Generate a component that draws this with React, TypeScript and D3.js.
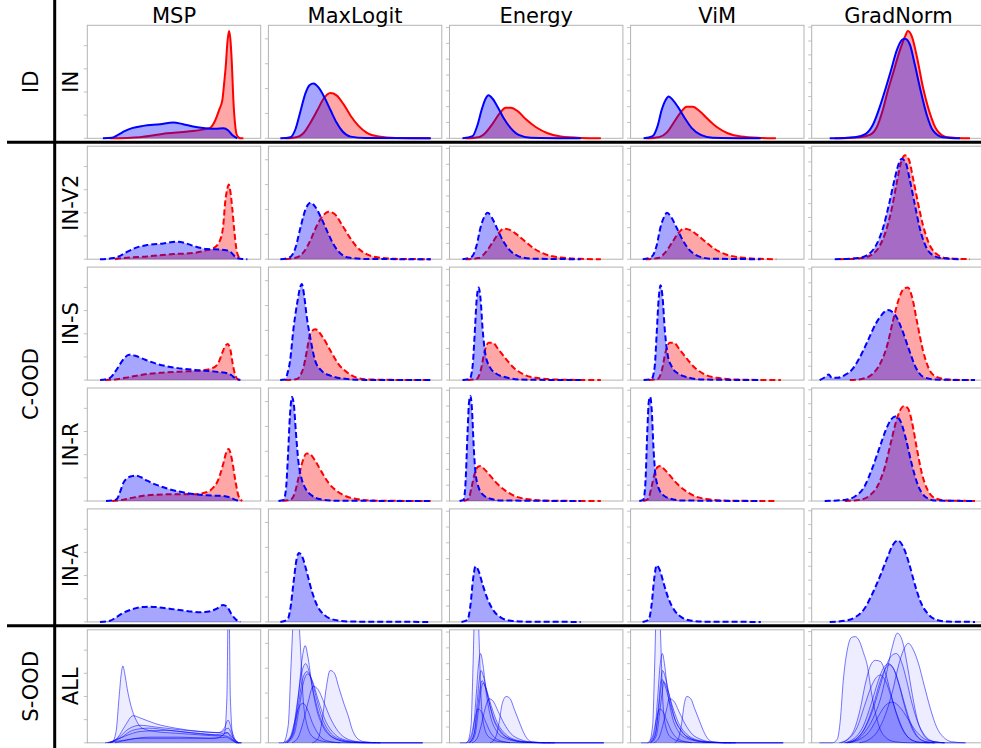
import React from "react";
import * as d3 from "d3";

type Pt = [number, number];

// x: position of the score inside the panel (0..100), y: density as % of panel height
const methods = ["MSP", "MaxLogit", "Energy", "ViM", "GradNorm"];
const rowLabels = ["IN", "IN-V2", "IN-S", "IN-R", "IN-A", "ALL"];
const groupLabels = ["ID", "C-OOD", "S-OOD"];
const groupFirstRow = [0, 1, 5];
const groupLastRow = [0, 4, 5];
const yTickStep = [20.5, 22, 14, 14, 12.3];

// ---- ID / IN ----
const idMspRed: Pt[] = [[13,0],[30.5,1],[46,4.4],[58,6],[70.5,9],[73.8,16],[76,25],[77.9,34],[79,50],[79.9,65],[80.8,85],[81.7,95],[82.5,88],[83.4,65],[84.2,35],[85.4,10],[86.5,2],[88.3,0],[90,0]];
const idMspBlue: Pt[] = [[9,0],[14.3,0.5],[17.7,3],[21.8,6.5],[25.8,9],[32.2,11],[42,12.5],[49.5,14],[55.3,12.5],[61,10.5],[68,9],[73.8,8.5],[78.5,9],[81.3,7],[83.6,3],[86.5,0]];
const idMaxRed: Pt[] = [[9.8,0],[16.2,1],[20.2,4.5],[24.3,14],[28.3,25],[31.8,35],[35.8,40],[39.3,38],[43.4,30],[47.4,20],[52,11],[56.6,5],[63.6,1.5],[73.4,0.3],[93.6,0]];
const idMaxBlue: Pt[] = [[6.9,0],[12.7,1],[15.6,8],[18.5,24],[21.4,40],[23.7,47],[26,48.5],[28.9,45],[32.4,36],[35.8,25],[39.3,14],[42.8,6],[47.4,1.5],[56,0.2],[93.6,0]];
const idEnergyRed: Pt[] = [[9.2,0],[16.8,1],[20.8,5],[24.9,13],[28.9,22],[32.4,27],[35.3,27],[39.3,24],[43.9,17],[49.7,10],[56.6,4.5],[64.2,1.5],[75.7,0.3],[87.3,0]];
const idEnergyBlue: Pt[] = [[7.5,0],[13.3,2],[16.2,12],[18.5,25],[20.8,35],[22.5,38],[24.9,35],[27.7,28],[31.2,18],[35.3,9],[39.9,3],[46.8,0.5],[75.7,0]];
const idVimRed: Pt[] = [[8.7,0],[16.2,1],[20.8,5],[24.9,14],[28.9,23],[32.4,28],[35.8,28],[39.9,24],[44.5,17],[49.7,10],[56,4.5],[63.6,1.5],[75,0.3],[83.8,0]];
const idVimBlue: Pt[] = [[7.5,0],[12.7,2],[15.6,11],[17.9,25],[20.2,34],[22,37],[24.3,34],[27.2,28],[31.2,18],[35.3,9],[40.5,3],[47.4,0.5],[75,0]];
const idGradRed: Pt[] = [[13.3,0],[27.7,1],[33.5,3],[37.6,10],[41,25],[43.9,42],[46.8,57],[50.9,78],[53.8,90],[55.5,95],[57.8,90],[60.7,72],[64.2,45],[68.2,22],[72.3,7],[78,1],[91.3,0]];
const idGradBlue: Pt[] = [[10.4,0],[24.9,1],[31.2,4],[35.3,12],[39.3,28],[42.8,45],[45.7,60],[49.1,78],[52,87],[53.8,88],[56.6,83],[59.5,65],[62.4,45],[66.5,20],[69.9,7],[75.7,1],[85.5,0]];

// ---- C-OOD / IN-V2 ----
const v2MspRed: Pt[] = [[16,0],[20.6,1],[34.5,2.5],[49.5,4.5],[61,5.5],[69,8],[73,10],[76.6,17],[78.4,30],[79.5,50],[80.7,62],[81.6,66],[82.5,60],[83.6,45],[84.8,25],[85.9,10],[87,3],[88.8,0]];
const v2MspBlue: Pt[] = [[7.3,0],[14.9,1],[18.9,3],[23.5,7],[28.7,10.5],[34.5,12.5],[43.8,14],[51.9,15.5],[57,14],[61.7,11.5],[69,9],[76.6,8.5],[80,8],[83,6],[85.4,2],[88.3,0.5],[92.3,0]];
const v2MaxRed: Pt[] = [[9.8,0],[16.2,1.5],[20.2,6],[24.3,17],[27.7,29],[31.2,38],[34.7,42],[38.2,40],[42.2,31],[46.2,21],[50.9,11],[56,5],[63.6,1.5],[73.4,0.3],[93.6,0]];
const v2MaxBlue: Pt[] = [[6.9,0],[12.1,1.5],[15.6,10],[18.5,28],[21.4,44],[24.3,50],[27.2,46],[30.6,36],[34.1,24],[37.6,13],[41.6,5],[46.2,1.5],[56,0.2],[93.6,0]];
const v2EnergyRed: Pt[] = [[9.2,0],[16.8,1],[20.8,6],[24.9,15],[28.3,23],[31.2,27],[34.7,26],[38.7,22],[43.4,16],[49.1,9],[56,4],[64.2,1.5],[75.7,0.3],[87.3,0]];
const v2EnergyBlue: Pt[] = [[7.5,0],[12.7,2],[15.6,12],[17.9,28],[20.2,38],[22,41],[24.3,37],[27.2,28],[30.6,17],[34.7,8],[39.3,3],[46.8,0.5],[75.7,0]];
const v2VimRed: Pt[] = [[8.5,0],[16,1],[20,6],[24,15],[27.5,23],[30.5,27],[34,26],[38,22],[42.8,16],[48.5,9],[55.5,4],[63.6,1.5],[75,0.3],[84,0]];
const v2VimBlue: Pt[] = [[7,0],[12,2],[15,12],[17.2,28],[19.5,38],[21,41],[23.5,37],[26.5,28],[30,17],[34,8],[38.7,3],[46,0.5],[75,0]];
const v2GradRed: Pt[] = [[16.2,0],[28.9,1],[34.7,4],[39.3,12],[42.8,25],[46.2,45],[49.1,68],[51.4,85],[53.8,92],[56.1,88],[58.4,72],[61.3,50],[64.2,30],[67.6,14],[71.7,5],[77.5,1],[91.3,0]];
const v2GradBlue: Pt[] = [[13.3,0],[26.6,1],[32.4,4],[37,12],[41,27],[44.5,48],[48,72],[50.3,85],[52,89],[54.3,85],[56.6,70],[59.5,48],[62.4,27],[65.9,11],[69.4,4],[75.1,1],[85.5,0]];

// ---- C-OOD / IN-S ----
const sMspRed: Pt[] = [[10.3,0],[16,0.5],[21.8,2],[30.5,4.5],[42,6.5],[53.6,7.5],[65.1,8.5],[72,10.5],[75.5,15],[77.8,24],[79.5,30],[81,32],[82.5,27],[83.9,14],[85.4,4],[87.1,0.5],[89.4,0]];
const sMspBlue: Pt[] = [[7.4,0],[13.1,2],[17.2,10],[20.6,18],[24.1,22.5],[27.6,21.5],[33.4,18],[40.9,14],[50.7,11],[62.2,9],[73.8,7.5],[79.5,6.5],[83,4.5],[85.4,1.5],[88.3,0]];
const sMaxRed: Pt[] = [[9.7,0],[16.6,1],[18.3,4],[20.2,11],[22.2,26],[24.1,41],[27,45],[30.9,39],[35.8,26],[40.5,14],[45.3,7],[51.1,2],[58.8,0.5],[93.5,0]];
const sMaxBlue: Pt[] = [[6.8,0],[9.7,0.5],[10.8,5],[12.5,17],[14.5,46],[16.8,70],[18.3,82],[19.3,85],[20.6,75],[22.2,55],[24.1,38],[27,17],[30.9,8],[35.7,4],[45.5,1],[55.9,0.2],[93.5,0]];
const sEnergyRed: Pt[] = [[10.4,0],[15.6,1],[17.9,8],[20.2,25],[22.5,33],[24.9,33],[28.3,27],[32.4,19],[37,11],[42.8,5],[49.7,2],[61.3,0.5],[87.3,0]];
const sEnergyBlue: Pt[] = [[7.5,0],[11.6,1],[13.3,12],[14.5,40],[15.6,70],[16.8,82],[17.9,72],[19.1,45],[20.8,22],[23.1,12],[26.6,6],[32.4,2.5],[41,0.5],[75.7,0]];
const sVimRed: Pt[] = [[10.4,0],[15.6,1],[17.9,8],[20.2,25],[22.5,33],[24.9,33],[28.3,27],[32.4,19],[37,11],[42.8,5],[49.7,2],[61.3,0.5],[86.7,0]];
const sVimBlue: Pt[] = [[7.5,0],[12.1,1],[13.9,12],[15,40],[16.2,72],[17.3,84],[18.5,72],[19.7,45],[21.4,22],[23.7,12],[27.2,6],[32.9,2.5],[41.6,0.5],[75.1,0]];
const sGradRed: Pt[] = [[22,0],[28.9,1],[34.7,5],[39.3,14],[43.4,30],[46.8,52],[50.3,72],[53.2,81],[55.5,82],[57.8,74],[60.7,52],[64.2,26],[67.6,10],[71.7,3],[78.6,0.5],[94.2,0]];
const sGradBlue: Pt[] = [[4.6,0],[8.1,3],[9.8,5],[11.6,2],[15,2],[19.1,4.5],[23.1,9],[27.7,20],[32.4,35],[37,50],[40.5,58],[43.9,62],[48,58],[52,45],[56.1,27],[60.1,11],[64.2,3],[71.1,0.5],[94.2,0]];

// ---- C-OOD / IN-R ----
const rMspRed: Pt[] = [[14.3,0],[20.1,1],[26.4,3],[34.5,5],[49.5,6],[61.1,6],[69.2,8],[72.7,12],[75,17],[76.7,24],[78.4,33],[79.9,42],[81.5,46],[83.5,36],[85.4,18],[87.3,4],[89.4,0]];
const rMspBlue: Pt[] = [[10.8,0],[14.9,0.5],[17.2,2],[18.9,8],[20.8,16],[22.9,20],[25.8,22],[28.1,22.5],[31,21],[34.5,18],[40.3,14],[46,11],[57.6,7],[69.2,5],[78.4,4.5],[82.5,3],[85.4,1],[88.3,0]];
const rMaxRed: Pt[] = [[8.1,0],[12.7,1],[15,6],[17.3,20],[19.7,35],[22,42],[24.3,41],[27.2,35],[30.6,26],[34.7,16],[39.3,9],[45.1,4],[52,1.5],[61.8,0.3],[93.6,0]];
const rMaxBlue: Pt[] = [[5.8,0],[8.7,1],[10.1,10],[11.3,40],[12.4,75],[13.6,92],[14.7,85],[15.9,60],[17.3,35],[19.1,20],[21.4,11],[24.9,5],[30.1,1.5],[38.7,0.3],[93.6,0]];
const rEnergyRed: Pt[] = [[8.1,0],[11,2],[12.7,12],[14.5,24],[16.2,30],[17.9,31],[20.2,28],[23.7,22],[27.7,15],[32.4,9],[38.2,4],[45.7,1.5],[55.5,0.3],[87.3,0]];
const rEnergyBlue: Pt[] = [[5.8,0],[8.1,1],[9.2,15],[10.4,60],[11.3,88],[12.1,93],[13,80],[13.9,50],[15,25],[16.8,12],[19.7,5],[23.7,2],[29.5,0.5],[75.7,0]];
const rVimRed: Pt[] = [[7.3,0],[10.2,2],[12,12],[13.8,24],[15.5,30],[17.2,31],[19.5,28],[23,22],[27,15],[31.7,9],[37.5,4],[45,1.5],[55,0.3],[84,0]];
const rVimBlue: Pt[] = [[5,0],[7.3,1],[8.5,15],[9.6,60],[10.5,88],[11.3,92],[12.2,80],[13.1,50],[14.2,25],[16,12],[19,5],[23,2],[29,0.5],[75,0]];
const rGradRed: Pt[] = [[19.1,0],[27.7,1],[33.5,5],[38.2,14],[42.2,30],[45.7,52],[48.6,70],[50.9,80],[53.2,84],[55.5,82],[57.8,70],[60.7,46],[63.6,24],[67.1,9],[71.1,2.5],[76.9,0.5],[94.2,0]];
const rGradBlue: Pt[] = [[7.5,0],[19.1,1],[24.9,4],[30.1,12],[34.7,28],[39.3,48],[42.8,63],[45.7,72],[48.6,75],[51.4,70],[54.3,55],[57.8,32],[61.3,14],[65.3,4],[71.1,0.5],[94.2,0]];

// ---- C-OOD / IN-A (OOD only) ----
const aMsp: Pt[] = [[7.3,0],[13.1,1],[16.6,4],[20.1,7.5],[24.7,10.5],[30.5,13],[36.2,13.5],[43.2,12.5],[50.7,11],[58.2,9.5],[65.1,8.5],[70.9,9.5],[75,12],[78.3,15],[80.8,13],[83.1,7],[85.4,2.5],[88.3,0]];
const aMax: Pt[] = [[6.9,0],[11,2],[12.7,12],[14.5,35],[16.2,55],[17.6,61],[19.7,57],[22,45],[24.9,28],[28.3,14],[32.4,6],[37.6,2],[47.4,0.3],[93.6,0]];
const aEnergy: Pt[] = [[6.9,0],[10.4,2],[12.1,15],[13.6,38],[15,49],[16.8,45],[19.1,33],[22,20],[25.4,10],[29.5,4],[35.3,1],[43.9,0.2],[75.7,0]];
const aVim: Pt[] = [[6.9,0],[10.4,2],[12.1,15],[13.6,38],[15,50],[16.8,46],[19.1,34],[22,20],[25.4,10],[29.5,4],[35.3,1],[43.9,0.2],[75.1,0]];
const aGrad: Pt[] = [[10.4,0],[19.1,1],[24.9,4],[30.1,11],[34.7,24],[39.3,40],[43.4,56],[46.8,68],[49.7,72],[52.6,67],[56.1,52],[59.5,33],[63,17],[67.1,7],[71.7,2],[78.6,0.3],[94.2,0]];

// ---- S-OOD / ALL (one curve per dataset) ----
const allMsp: Pt[][] = [
  [[14.3,0],[16.6,10],[18.3,40],[19.5,60],[20.5,68],[21.5,62],[23,48],[25.3,32],[28.2,20],[31.6,13],[39.1,10],[50.7,8.5],[65.1,7],[76.7,6],[80.7,9],[83.1,4],[85.9,0],[89,0]],
  [[10.2,0],[20,2],[30.5,4],[53.6,4],[73.8,4],[79,8],[80.5,40],[81.5,150],[82.5,40],[84,5],[86,0],[89,0]],
  [[13.1,0],[17.7,5],[21.8,15],[26.4,24],[30.5,22],[39.1,17],[50.7,13],[65.1,10],[75.5,9],[79,13],[81.2,20],[83.5,10],[86,1],[88.3,0]],
  [[11.9,0],[17.7,4],[23.5,12],[30.5,15.5],[39.1,14],[50.7,12],[65.1,10],[76.7,9],[81.2,13],[84.1,5],[87.1,0]],
  [[11.9,0],[18.9,4],[26,11],[35,13],[47.8,11],[62.2,8.5],[73.8,7],[80.7,9],[84.1,4],[87.1,0]],
  [[13.1,0],[21.8,6],[30.5,10],[45,11],[59.4,9],[73.8,7],[80.1,6],[83.5,3],[87.1,0]],
  [[16,0],[24.6,3],[36.2,5],[53.6,5],[71.3,4],[80.1,5],[83.5,2],[87.1,0]],
];
const allMax: Pt[][] = [
  [[6,0],[8.5,0],[11.4,15],[13.1,70],[14.8,120],[16.6,130],[18.3,90],[20,40],[22.4,15],[25.8,5],[32.8,1],[44.3,0],[89,0]],
  [[10.8,0],[14.3,10],[17.2,40],[19.5,75],[21.2,86],[22.9,75],[25.2,50],[28.1,28],[31.6,14],[36.8,5],[44.3,1],[53,0],[89,0]],
  [[9.7,0],[13.7,8],[16.6,35],[18.9,60],[21.5,70],[23.5,63],[26.4,42],[29.9,22],[33.9,10],[39.7,3],[48.4,0.5],[58.8,0]],
  [[9.7,0],[14.3,8],[17.2,32],[19.5,55],[22.2,63],[24.7,57],[27.6,40],[31,22],[35.7,9],[41.4,3],[50.1,0.5],[61.7,0]],
  [[10.8,0],[14.9,8],[17.7,30],[20,52],[22.7,61],[25.3,55],[28.7,38],[32.8,20],[38,8],[44.3,2.5],[54.2,0.5],[64.6,0]],
  [[13.7,0],[17.2,5],[20,18],[22.9,36],[25.8,50],[28.7,47],[32.2,35],[35.7,22],[40.3,10],[46.1,3],[54.2,0.5],[64.6,0]],
  [[25.3,0],[28.7,4],[31,20],[33.3,48],[35.6,64],[37.9,62],[40.8,48],[43.7,34],[46,24],[48.3,12],[51.2,4],[55.3,1],[64.6,0],[89,0]],
  [[8.5,0],[12.5,5],[15.4,20],[17.7,32],[20,35],[22.4,30],[25.3,18],[28.7,8],[33.3,2],[41.4,0]],
];
const allEnergy: Pt[][] = [
  [[6,0],[10.1,0],[12.4,15],[13.6,70],[14.7,130],[15.9,140],[17.1,90],[18.2,40],[19.9,15],[22.8,5],[29.2,1],[40.8,0],[89,0]],
  [[10.7,0],[13.6,10],[15.3,40],[16.8,70],[17.9,79],[19.4,68],[21.1,45],[23.4,25],[26.9,11],[32.1,4],[40.8,1],[52.3,0],[89,0]],
  [[11.3,0],[14.2,8],[15.9,35],[17.1,55],[18.2,64],[19.9,57],[22.3,40],[25.1,22],[29.2,10],[35,3.5],[43.6,0.5],[55.2,0]],
  [[11.3,0],[14.2,8],[16.2,30],[17.6,48],[18.8,55],[20.5,50],[22.8,36],[25.7,21],[29.8,10],[35.5,3],[44.8,0.5],[58.1,0]],
  [[11.8,0],[14.7,7],[16.8,30],[18.2,47],[19.4,53],[21.1,48],[24,33],[27.5,18],[32.1,8],[38.4,2.5],[47.7,0.5],[60.7,0]],
  [[13,0],[15.9,4],[18.2,15],[20.5,30],[22.8,39],[25.1,37],[28,28],[31.5,17],[35.5,8],[40.8,3],[48.3,0.5],[60.7,0]],
  [[23.4,0],[26.3,4],[28.6,18],[30.3,34],[32.7,41],[35,39],[37.3,30],[39.6,21],[41.9,12],[44.2,5],[47.1,1],[55.2,0],[89,0]],
  [[9.5,0],[12.4,6],[14.7,22],[16.5,30],[18.2,28],[20.5,20],[23.4,10],[27.5,3],[35,0]],
];
const allVim: Pt[][] = [
  [[6,0],[10.5,0],[12.7,15],[13.9,70],[15,130],[16.2,140],[17.4,90],[18.5,40],[20.2,15],[23.1,5],[29.5,1],[41,0],[88,0]],
  [[11,0],[13.9,10],[15.6,40],[17.1,70],[18.3,79],[19.7,68],[21.4,45],[23.7,25],[27.2,11],[32.4,4],[41,1],[52.5,0],[88,0]],
  [[11.6,0],[14.5,8],[16.2,35],[17.4,55],[18.4,64],[20.2,57],[22.6,40],[25.4,22],[29.5,10],[35.3,3.5],[43.9,0.5],[55.5,0]],
  [[11.3,0],[14.2,8],[16.2,30],[17.4,48],[18.1,56],[20,50],[22.5,36],[25.5,21],[29.6,10],[35.3,3],[44.6,0.5],[58,0]],
  [[12,0],[15,7],[17,30],[18.4,47],[19.1,54],[21.1,48],[24,33],[27.5,18],[32.1,8],[38.4,2.5],[47.7,0.5],[60.7,0]],
  [[13.3,0],[16.2,4],[18.5,15],[20.8,30],[22.3,39],[24.9,37],[27.8,28],[31.3,17],[35.3,8],[40.6,3],[48,0.5],[60.5,0]],
  [[25.4,0],[27.6,4],[29.5,18],[30.9,34],[32.5,41],[34.7,39],[37,30],[39.3,21],[41.6,12],[43.9,5],[47,1],[55,0],[88,0]],
  [[9.8,0],[12.7,6],[15,22],[16.8,30],[18.5,28],[20.8,20],[23.7,10],[27.8,3],[35.3,0]],
];
const allGrad: Pt[][] = [
  [[4.5,0],[11.8,0],[14.7,3],[16.5,20],[18.2,55],[20.5,82],[22.8,93],[25.1,94],[27.5,90],[29.8,80],[32.1,68],[34.4,45],[36.7,27],[39,14],[42.5,5],[47.7,1],[56.4,0],[89,0]],
  [[20.5,0],[26.3,3],[30.9,10],[35.5,22],[40.2,42],[43.6,65],[46.5,85],[49.4,97],[52.3,90],[55.2,68],[58.1,42],[61,20],[64.5,7],[69.1,1.5],[76.6,0]],
  [[27.5,0],[33.2,3],[37.9,10],[42.5,25],[46.5,45],[50,68],[52.9,82],[55.8,88],[58.7,82],[61.6,70],[65,50],[68.5,30],[72,14],[76,5],[80.6,1],[88.2,0]],
  [[19.4,0],[25.1,3],[30.3,12],[35,28],[39,48],[42.5,66],[46,77],[48.8,79],[51.7,72],[54.6,56],[57.5,37],[61,19],[65,7],[69.6,1.5],[76.6,0]],
  [[15.9,0],[20.5,3],[24.6,12],[28,30],[30.9,52],[33.8,68],[36.7,73],[39.6,72],[42.5,62],[45.4,45],[48.8,26],[52.3,12],[56.4,4],[62.1,0.5],[70.8,0]],
  [[18.8,0],[24.6,4],[29.8,15],[34.4,35],[38.4,55],[41.3,66],[44.2,70],[47.1,66],[50,54],[53.5,35],[56.9,18],[60.4,7],[65,1.5],[70.8,0]],
  [[20.5,0],[26.3,4],[30.9,14],[35.5,33],[39,52],[41.9,64],[44.8,69],[47.7,64],[50.6,50],[54,30],[57.5,14],[61,5],[65.6,1],[71.4,0]],
  [[17.1,0],[21.7,4],[26.3,14],[30.3,32],[34.4,50],[37.3,58],[39.6,60],[42.5,55],[46,40],[49.4,24],[52.9,11],[56.9,3],[62.1,0.5],[67.9,0]],
  [[21.7,0],[27.5,3],[33.2,10],[37.9,22],[42.5,33],[46.5,36],[50.6,32],[55.2,22],[59.8,11],[64.5,4],[70.2,1],[76.6,0]],
];

// [red (ID), blue (OOD)] per method for the first four rows
const pairRows: [Pt[], Pt[]][][] = [
  [[idMspRed, idMspBlue], [idMaxRed, idMaxBlue], [idEnergyRed, idEnergyBlue], [idVimRed, idVimBlue], [idGradRed, idGradBlue]],
  [[v2MspRed, v2MspBlue], [v2MaxRed, v2MaxBlue], [v2EnergyRed, v2EnergyBlue], [v2VimRed, v2VimBlue], [v2GradRed, v2GradBlue]],
  [[sMspRed, sMspBlue], [sMaxRed, sMaxBlue], [sEnergyRed, sEnergyBlue], [sVimRed, sVimBlue], [sGradRed, sGradBlue]],
  [[rMspRed, rMspBlue], [rMaxRed, rMaxBlue], [rEnergyRed, rEnergyBlue], [rVimRed, rVimBlue], [rGradRed, rGradBlue]],
];
const inaRow = [aMsp, aMax, aEnergy, aVim, aGrad];
const allRow = [allMsp, allMax, allEnergy, allVim, allGrad];

const W = 981;
const H = 748;
const FONT = "DejaVu Sans, Liberation Sans, sans-serif";
const SPINE = "#b3b3b3";

const colBand = d3.scaleBand<string>().domain(methods).range([87.3, 985.1]).paddingInner(0.0425);
const rowBand = d3.scaleBand<string>().domain(rowLabels).range([25.3, 742.8]).paddingInner(0.0653);
const pw = colBand.bandwidth();
const ph = rowBand.bandwidth();
const x = d3.scaleLinear().domain([0, 100]).range([0, pw]);
const y = d3.scaleLinear().domain([0, 100]).range([ph, 0]);

const areaGen = d3.area<Pt>().x((d) => x(d[0])).y0(y(0)).y1((d) => y(d[1])).curve(d3.curveMonotoneX);
const lineGen = d3.line<Pt>().x((d) => x(d[0])).y((d) => y(d[1])).curve(d3.curveMonotoneX);

function Density({ pts, color, fillOpacity, width, dashed, strokeOpacity = 1 }: any) {
  return (
    <g>
      <path d={areaGen(pts) || ""} fill={color} fillOpacity={fillOpacity} stroke="none" />
      <path
        d={lineGen(pts) || ""}
        fill="none"
        stroke={color}
        strokeOpacity={strokeOpacity}
        strokeWidth={width}
        strokeDasharray={dashed ? "6 3" : undefined}
        strokeLinejoin="round"
      />
    </g>
  );
}

function Panel({ r, c }: { r: number; c: number }) {
  const id = `clip-${r}-${c}`;
  const ticks = d3.range(0, 100.01, yTickStep[c]);
  let curves: React.ReactNode = null;
  if (r < 4) {
    const [red, blue] = pairRows[r][c];
    const dashed = r > 0;
    curves = (
      <>
        <Density pts={red} color="#ff0000" fillOpacity={0.35} width={2} dashed={dashed} />
        <Density pts={blue} color="#0000ff" fillOpacity={0.35} width={2} dashed={dashed} />
      </>
    );
  } else if (r === 4) {
    curves = <Density pts={inaRow[c]} color="#0000ff" fillOpacity={0.35} width={2} dashed />;
  } else {
    curves = allRow[c].map((pts, i) => (
      <Density key={i} pts={pts} color="#0000ff" fillOpacity={0.07} width={0.9} strokeOpacity={0.6} />
    ));
  }
  return (
    <g transform={`translate(${colBand(methods[c])},${rowBand(rowLabels[r])})`}>
      <defs>
        <clipPath id={id}>
          <rect x={-2} y={0} width={pw + 4} height={ph + 2} />
        </clipPath>
      </defs>
      <rect x={0} y={0} width={pw} height={ph} fill="white" stroke={SPINE} strokeWidth={1} />
      {ticks.map((t) => (
        <line key={t} x1={-3.5} x2={0} y1={y(t)} y2={y(t)} stroke={SPINE} strokeWidth={0.8} />
      ))}
      <g clipPath={`url(#${id})`}>{curves}</g>
    </g>
  );
}

export default function App() {
  const sepYs = [0, 4].map((r) => (rowBand(rowLabels[r])! + ph + rowBand(rowLabels[r + 1])!) / 2);
  return (
    <svg
      width={W}
      height={H}
      viewBox={`0 0 ${W} ${H}`}
      style={{ position: "absolute", left: 0, top: 0, background: "white" }}
      fontFamily={FONT}
    >
      {rowLabels.map((_, r) => methods.map((__, c) => <Panel key={`${r}-${c}`} r={r} c={c} />))}

      {methods.map((m) => (
        <text key={m} x={colBand(m)! + pw / 2} y={22.7} fontSize={21} textAnchor="middle" fill="#000">
          {m}
        </text>
      ))}

      {rowLabels.map((lab) => (
        <text
          key={lab}
          transform={`translate(77.5,${rowBand(lab)! + ph / 2}) rotate(-90)`}
          fontSize={21}
          textAnchor="middle"
          fill="#000"
        >
          {lab}
        </text>
      ))}

      {groupLabels.map((g, i) => {
        const top = rowBand(rowLabels[groupFirstRow[i]])!;
        const bottom = rowBand(rowLabels[groupLastRow[i]])! + ph;
        return (
          <text
            key={g}
            transform={`translate(38,${(top + bottom) / 2}) rotate(-90)`}
            fontSize={21}
            textAnchor="middle"
            fill="#000"
          >
            {g}
          </text>
        );
      })}

      {sepYs.map((sy, i) => (
        <line key={i} x1={7} x2={W} y1={sy} y2={sy} stroke="#000" strokeWidth={3} />
      ))}
      <line x1={54.7} x2={54.7} y1={0} y2={H} stroke="#000" strokeWidth={3} />
    </svg>
  );
}
